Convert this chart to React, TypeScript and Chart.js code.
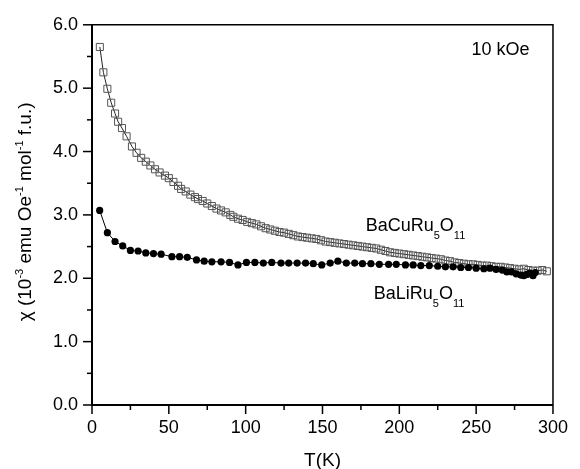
import React, { useEffect, useRef } from 'react';
import { Chart, registerables } from 'chart.js';

Chart.register(...registerables);

const FONT = '"Liberation Sans", Arial, Helvetica, sans-serif';

// BaCuRu5O11 (open squares)
const cuT = [5.1, 7.4, 10, 12.5, 15, 17, 19.5, 22.5, 26, 29, 32, 35, 38, 41, 44, 47.5, 50, 53, 56, 58, 61, 64, 67, 69, 72, 75, 78, 81, 84, 87, 90, 92, 95, 98, 101, 104, 107, 110, 113, 116, 119, 122, 125, 128, 131, 134, 137, 140, 143, 146, 149, 152, 155, 158, 161, 164, 167, 170, 173, 176, 179, 182, 185, 188, 191, 194, 197, 200, 203, 206, 209, 212, 215, 218, 221, 224, 227, 230, 233, 236, 239, 242, 245, 248, 251, 254, 257, 260, 263, 266, 269, 272, 275, 278, 281, 284, 287, 290, 293, 296];
const cuChi = [5.65, 5.25, 4.99, 4.77, 4.6, 4.47, 4.37, 4.24, 4.08, 3.98, 3.9, 3.84, 3.78, 3.72, 3.67, 3.62, 3.58, 3.52, 3.46, 3.41, 3.37, 3.32, 3.28, 3.25, 3.22, 3.18, 3.14, 3.1, 3.07, 3.04, 3.0, 2.97, 2.94, 2.92, 2.89, 2.87, 2.85, 2.82, 2.79, 2.77, 2.75, 2.73, 2.72, 2.7, 2.68, 2.66, 2.65, 2.64, 2.63, 2.62, 2.6, 2.58, 2.57, 2.56, 2.55, 2.54, 2.53, 2.52, 2.51, 2.5, 2.49, 2.48, 2.47, 2.45, 2.43, 2.41, 2.4, 2.39, 2.38, 2.37, 2.36, 2.35, 2.34, 2.33, 2.32, 2.31, 2.3, 2.28, 2.27, 2.25, 2.24, 2.23, 2.22, 2.22, 2.21, 2.2, 2.2, 2.19, 2.18, 2.18, 2.17, 2.16, 2.15, 2.14, 2.15, 2.13, 2.12, 2.12, 2.13, 2.11];

// BaLiRu5O11 (filled circles)
const liT = [5, 10, 15, 20, 25, 30, 35, 40, 45, 52, 57, 62, 68, 73, 78, 84, 89.5, 95, 100.5, 106, 111.5, 117, 123, 128, 133.5, 139, 144, 149.5, 155, 160, 165.5, 171, 176, 181.5, 187, 193, 198, 204, 209, 214, 219.5, 225, 230, 235, 240, 245, 250, 255, 259, 263, 267, 270, 273, 276, 279, 281, 283, 285, 287, 288.5];
const liChi = [3.07, 2.72, 2.58, 2.51, 2.44, 2.43, 2.4, 2.39, 2.38, 2.34, 2.34, 2.33, 2.29, 2.27, 2.26, 2.26, 2.25, 2.21, 2.25, 2.25, 2.24, 2.25, 2.24, 2.24, 2.24, 2.24, 2.23, 2.21, 2.24, 2.27, 2.24, 2.24, 2.23, 2.23, 2.22, 2.22, 2.22, 2.21, 2.21, 2.2, 2.2, 2.19, 2.18, 2.18, 2.17, 2.17, 2.16, 2.15, 2.16, 2.14, 2.13, 2.1, 2.1, 2.07, 2.05, 2.04, 2.06, 2.08, 2.04, 2.09];

const xTicks = [0, 50, 100, 150, 200, 250, 300];
const yTicks = [0, 1, 2, 3, 4, 5, 6];

type Part = { t: string; s: number; dy?: number };

function drawRich(ctx: CanvasRenderingContext2D, parts: Part[], x: number, y: number, align: 'left' | 'center') {
  let w = 0;
  for (const p of parts) {
    ctx.font = `${p.s}px ${FONT}`;
    w += ctx.measureText(p.t).width;
  }
  let cx = align === 'center' ? x - w / 2 : x;
  ctx.textAlign = 'left';
  ctx.textBaseline = 'alphabetic';
  for (const p of parts) {
    ctx.font = `${p.s}px ${FONT}`;
    ctx.fillText(p.t, cx, y + (p.dy || 0));
    cx += ctx.measureText(p.t).width;
  }
}

const framePlugin = {
  id: 'frame',
  afterDraw(chart: any) {
    const { ctx, chartArea: a, scales } = chart;
    const x = scales.x;
    const y = scales.y;
    ctx.save();
    ctx.strokeStyle = '#000';
    ctx.fillStyle = '#000';
    ctx.lineWidth = 1.5;
    ctx.beginPath();
    ctx.moveTo(a.left, a.top);
    ctx.lineTo(a.right, a.top);
    ctx.lineTo(a.right, a.bottom);
    ctx.stroke();
    ctx.lineWidth = 2;
    ctx.beginPath();
    ctx.moveTo(a.left, a.top);
    ctx.lineTo(a.left, a.bottom);
    ctx.lineTo(a.right, a.bottom);
    ctx.stroke();
    ctx.lineWidth = 1.5;
    for (let i = 0; i < xTicks.length; i++) {
      const v = xTicks[i];
      const px = x.getPixelForValue(v);
      ctx.beginPath();
      ctx.moveTo(px, a.bottom);
      ctx.lineTo(px, a.bottom + 9);
      ctx.stroke();
      if (i < xTicks.length - 1) {
        const m = x.getPixelForValue((v + xTicks[i + 1]) / 2);
        ctx.beginPath();
        ctx.moveTo(m, a.bottom);
        ctx.lineTo(m, a.bottom + 5);
        ctx.stroke();
      }
    }
    for (let i = 0; i < yTicks.length; i++) {
      const v = yTicks[i];
      const py = y.getPixelForValue(v);
      ctx.beginPath();
      ctx.moveTo(a.left, py);
      ctx.lineTo(a.left - 9, py);
      ctx.stroke();
      if (i < yTicks.length - 1) {
        const m = y.getPixelForValue((v + yTicks[i + 1]) / 2);
        ctx.beginPath();
        ctx.moveTo(a.left, m);
        ctx.lineTo(a.left - 5, m);
        ctx.stroke();
      }
    }
    ctx.font = `19px ${FONT}`;
    ctx.textAlign = 'center';
    ctx.textBaseline = 'alphabetic';
    ctx.fillText('T(K)', (a.left + a.right) / 2, 466);
    ctx.save();
    ctx.translate(31, (a.top + a.bottom) / 2 - 3);
    ctx.rotate(-Math.PI / 2);
    drawRich(ctx, [
      { t: 'χ (10', s: 19 },
      { t: '-3', s: 11, dy: -8 },
      { t: ' emu Oe', s: 19 },
      { t: '-1', s: 11, dy: -8 },
      { t: ' mol', s: 19 },
      { t: '-1', s: 11, dy: -8 },
      { t: ' f.u.)', s: 19 },
    ], 0, 0, 'center');
    ctx.restore();
    drawRich(ctx, [
      { t: 'BaCuRu', s: 18 },
      { t: '5', s: 11, dy: 8 },
      { t: 'O', s: 18 },
      { t: '11', s: 11, dy: 8 },
    ], x.getPixelForValue(178.1), y.getPixelForValue(2.74), 'left');
    drawRich(ctx, [
      { t: 'BaLiRu', s: 18 },
      { t: '5', s: 11, dy: 8 },
      { t: 'O', s: 18 },
      { t: '11', s: 11, dy: 8 },
    ], x.getPixelForValue(183.4), y.getPixelForValue(1.68), 'left');
    drawRich(ctx, [{ t: '10 kOe', s: 18 }], x.getPixelForValue(247), y.getPixelForValue(5.53), 'left');
    ctx.restore();
  },
};

export default function App() {
  const ref = useRef<HTMLCanvasElement | null>(null);
  useEffect(() => {
    if (!ref.current) return;
    const chart = new Chart(ref.current, {
      type: 'line',
      data: {
        datasets: [
          {
            label: 'BaLiRu5O11',
            data: liT.map((t, i) => ({ x: t, y: liChi[i] })),
            borderColor: '#000',
            borderWidth: 1,
            pointStyle: 'circle',
            pointRadius: 3.6,
            pointBackgroundColor: '#000',
            pointBorderColor: '#000',
            pointBorderWidth: 0,
            tension: 0,
          },
          {
            label: 'BaCuRu5O11',
            data: cuT.map((t, i) => ({ x: t, y: cuChi[i] })),
            borderColor: '#222',
            borderWidth: 1,
            pointStyle: 'rect',
            pointRadius: 5,
            pointBackgroundColor: 'rgba(255,255,255,0)',
            pointBorderColor: '#555',
            pointBorderWidth: 1,
            tension: 0,
          },
        ],
      },
      options: {
        animation: false,
        responsive: false,
        devicePixelRatio: 1,
        layout: { padding: { left: 0, top: 18, right: 17, bottom: 0 } },
        plugins: { legend: { display: false }, tooltip: { enabled: false } },
        scales: {
          x: {
            type: 'linear',
            min: 0,
            max: 300,
            afterFit: (s: any) => { s.height = 64; },
            afterBuildTicks: (s: any) => { s.ticks = xTicks.map((v) => ({ value: v })); },
            grid: { display: false, drawTicks: false },
            border: { display: false },
            ticks: { padding: 12, color: '#000', font: { family: FONT, size: 18 }, maxRotation: 0, callback: (v: any) => String(v) },
          },
          y: {
            type: 'linear',
            min: 0,
            max: 6,
            afterFit: (s: any) => { s.width = 92; },
            afterBuildTicks: (s: any) => { s.ticks = yTicks.map((v) => ({ value: v })); },
            grid: { display: false, drawTicks: false },
            border: { display: false },
            ticks: { padding: 14, color: '#000', font: { family: FONT, size: 18 }, callback: (v: any) => Number(v).toFixed(1) },
          },
        },
      },
      plugins: [framePlugin],
    });
    return () => chart.destroy();
  }, []);
  return (
    <div style={{ position: 'absolute', left: 0, top: 0, width: 580, height: 469, background: '#fff' }}>
      <canvas ref={ref} width={580} height={469} />
    </div>
  );
}
